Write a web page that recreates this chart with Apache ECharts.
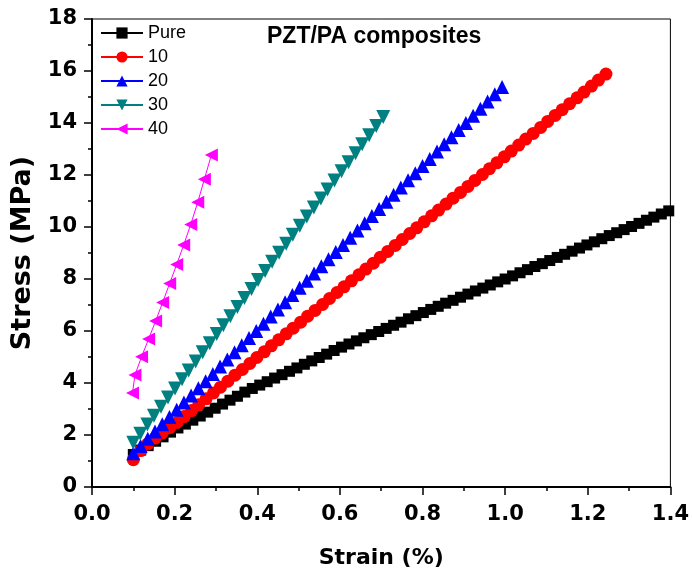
<!DOCTYPE html>
<html>
<head>
<meta charset="utf-8">
<script src="https://cdn.jsdelivr.net/npm/echarts@6/dist/echarts.min.js"></script>
<style>
html,body{margin:0;padding:0;background:#fff;}
#chart{width:692px;height:576px;}
</style>
</head>
<body>
<div id="chart"></div>
<script>
// ---- data ----
const seriesNames = ['Pure', '10', '20', '30', '40'];
const xTicks = [0.0, 0.2, 0.4, 0.6, 0.8, 1.0, 1.2, 1.4];
const yTicks = [0, 2, 4, 6, 8, 10, 12, 14, 16, 18];

const strainPure = [0.100,0.118,0.136,0.154,0.172,0.190,0.208,0.226,0.244,0.262,0.280,0.298,0.316,0.334,0.352,0.370,0.388,0.406,0.424,0.442,0.460,0.478,0.496,0.514,0.532,0.550,0.568,0.586,0.604,0.622,0.640,0.658,0.676,0.694,0.712,0.730,0.748,0.766,0.784,0.802,0.820,0.838,0.856,0.874,0.892,0.910,0.928,0.946,0.964,0.982,1.000,1.018,1.036,1.054,1.072,1.090,1.108,1.126,1.144,1.162,1.180,1.198,1.216,1.234,1.252,1.270,1.288,1.306,1.324,1.342,1.360,1.378,1.396];
const stressPure = [1.25,1.42,1.59,1.76,1.93,2.11,2.27,2.42,2.57,2.73,2.88,3.03,3.19,3.34,3.49,3.65,3.79,3.92,4.05,4.19,4.32,4.45,4.58,4.72,4.85,4.98,5.11,5.25,5.38,5.50,5.62,5.74,5.86,5.98,6.10,6.22,6.34,6.47,6.59,6.71,6.83,6.95,7.07,7.18,7.30,7.42,7.54,7.65,7.77,7.89,8.00,8.12,8.24,8.36,8.48,8.59,8.71,8.83,8.95,9.07,9.19,9.31,9.43,9.55,9.67,9.78,9.90,10.02,10.14,10.26,10.38,10.50,10.62];

const strain10 = [0.100,0.118,0.135,0.153,0.170,0.188,0.206,0.223,0.241,0.258,0.276,0.294,0.311,0.329,0.346,0.364,0.382,0.399,0.417,0.434,0.452,0.470,0.487,0.505,0.522,0.540,0.558,0.575,0.593,0.610,0.628,0.646,0.663,0.681,0.698,0.716,0.734,0.751,0.769,0.786,0.804,0.822,0.839,0.857,0.874,0.892,0.910,0.927,0.945,0.962,0.980,0.998,1.015,1.033,1.050,1.068,1.086,1.103,1.121,1.138,1.156,1.174,1.191,1.209,1.226,1.244];
const stress10 = [1.05,1.40,1.66,1.88,2.08,2.28,2.48,2.71,2.94,3.16,3.39,3.62,3.84,4.07,4.30,4.52,4.75,4.98,5.20,5.43,5.66,5.89,6.11,6.34,6.57,6.79,7.02,7.25,7.48,7.70,7.93,8.16,8.38,8.61,8.84,9.06,9.29,9.52,9.75,9.97,10.20,10.43,10.65,10.88,11.11,11.33,11.56,11.79,12.02,12.24,12.47,12.70,12.92,13.15,13.38,13.60,13.83,14.06,14.29,14.51,14.74,14.97,15.19,15.42,15.65,15.88];

const strain20 = [0.1000,0.1175,0.1350,0.1525,0.1700,0.1875,0.2050,0.2225,0.2400,0.2575,0.2750,0.2925,0.3100,0.3275,0.3450,0.3625,0.3800,0.3975,0.4150,0.4325,0.4500,0.4675,0.4850,0.5025,0.5200,0.5375,0.5550,0.5725,0.5900,0.6075,0.6250,0.6425,0.6600,0.6775,0.6950,0.7125,0.7300,0.7475,0.7650,0.7825,0.8000,0.8175,0.8350,0.8525,0.8700,0.8875,0.9050,0.9225,0.9400,0.9575,0.9750,0.9925];
const stress20 = [1.30,1.58,1.86,2.13,2.41,2.69,2.97,3.25,3.52,3.80,4.07,4.35,4.63,4.90,5.18,5.45,5.73,6.00,6.28,6.56,6.83,7.11,7.38,7.66,7.93,8.21,8.49,8.76,9.04,9.31,9.59,9.87,10.14,10.42,10.69,10.97,11.24,11.52,11.80,12.07,12.35,12.62,12.90,13.18,13.45,13.73,14.00,14.28,14.55,14.83,15.11,15.38];

const strain30 = [0.100,0.117,0.134,0.150,0.167,0.184,0.201,0.218,0.234,0.251,0.268,0.285,0.302,0.318,0.335,0.352,0.369,0.386,0.402,0.419,0.436,0.453,0.470,0.486,0.503,0.520,0.537,0.554,0.570,0.587,0.604,0.621,0.638,0.654,0.671,0.688,0.705];
const stress30 = [1.70,2.05,2.40,2.74,3.09,3.44,3.79,4.14,4.48,4.83,5.18,5.53,5.88,6.22,6.57,6.92,7.27,7.62,7.96,8.31,8.66,9.01,9.36,9.70,10.05,10.40,10.75,11.10,11.44,11.79,12.14,12.49,12.84,13.18,13.53,13.88,14.23];

const strain40 = [0.098,0.104,0.120,0.137,0.154,0.171,0.188,0.205,0.222,0.239,0.256,0.272,0.289];
const stress40 = [3.62,4.31,5.01,5.69,6.38,7.10,7.83,8.56,9.31,10.10,10.95,11.84,12.77];

// ---- styling ----
const colors = ['#000000', '#ff0000', '#0000ff', '#008080', '#ff00ff'];
const symbols = ['rect', 'circle', 'triangle', 'triangle', 'triangle'];
const rotations = [0, 0, 0, 180, 90];
const sizes = [11, 13, 14, 14, 13];
const xs = [strainPure, strain10, strain20, strain30, strain40];
const ys = [stressPure, stress10, stress20, stress30, stress40];

const zip = (a, b) => a.map((v, i) => [v, b[i]]);

const series = seriesNames.map((name, k) => ({
  name: name,
  type: 'line',
  data: zip(xs[k], ys[k]),
  symbol: symbols[k],
  symbolRotate: rotations[k],
  symbolSize: sizes[k],
  showAllSymbol: true,
  itemStyle: { color: colors[k] },
  lineStyle: { color: colors[k], width: 1 },
  z: 2 + k
}));

const chart = echarts.init(document.getElementById('chart'), null, { renderer: 'canvas' });
chart.setOption({
  animation: false,
  backgroundColor: '#ffffff',
  title: {
    text: 'PZT/PA composites',
    left: 262, top: 20,
    textStyle: { fontFamily: 'Liberation Sans', fontWeight: 'bold', fontSize: 23, color: '#000' }
  },
  legend: {
    orient: 'vertical',
    left: 95, top: 19,
    itemWidth: 42, itemHeight: 14, itemGap: 6,
    data: seriesNames,
    textStyle: { fontFamily: 'Liberation Sans', fontSize: 18, color: '#000' }
  },
  grid: {
    left: 92, right: 19, top: 19, bottom: 89,
    show: true, borderColor: '#000', borderWidth: 1, backgroundColor: 'transparent'
  },
  xAxis: {
    type: 'value', min: xTicks[0], max: xTicks[xTicks.length - 1], interval: 0.2,
    name: 'Strain (%)', nameLocation: 'middle', nameGap: 60,
    nameTextStyle: { fontFamily: 'DejaVu Sans', fontWeight: 'bold', fontSize: 22, color: '#000' },
    axisLine: { onZero: false, lineStyle: { color: '#000', width: 2 } },
    axisTick: { show: true, inside: false, length: 8, lineStyle: { color: '#000', width: 1.5 } },
    minorTick: { show: true, splitNumber: 2, length: 4, lineStyle: { color: '#000', width: 1.5 } },
    splitLine: { show: false },
    axisLabel: {
      margin: 17,
      fontFamily: 'DejaVu Sans', fontWeight: 'bold', fontSize: 21, color: '#000',
      formatter: v => v.toFixed(1)
    }
  },
  yAxis: {
    type: 'value', min: yTicks[0], max: yTicks[yTicks.length - 1], interval: 2,
    name: 'Stress (MPa)', nameLocation: 'middle', nameGap: 45, nameRotate: 90,
    nameTextStyle: { fontFamily: 'DejaVu Sans', fontWeight: 'bold', fontSize: 27, color: '#000' },
    axisLine: { onZero: false, lineStyle: { color: '#000', width: 2 } },
    axisTick: { show: true, inside: false, length: 8, lineStyle: { color: '#000', width: 1.5 } },
    minorTick: { show: true, splitNumber: 2, length: 4, lineStyle: { color: '#000', width: 1.5 } },
    splitLine: { show: false },
    axisLabel: {
      margin: 15,
      fontFamily: 'DejaVu Sans', fontWeight: 'bold', fontSize: 21, color: '#000'
    }
  },
  series: series
});
</script>
</body>
</html>
